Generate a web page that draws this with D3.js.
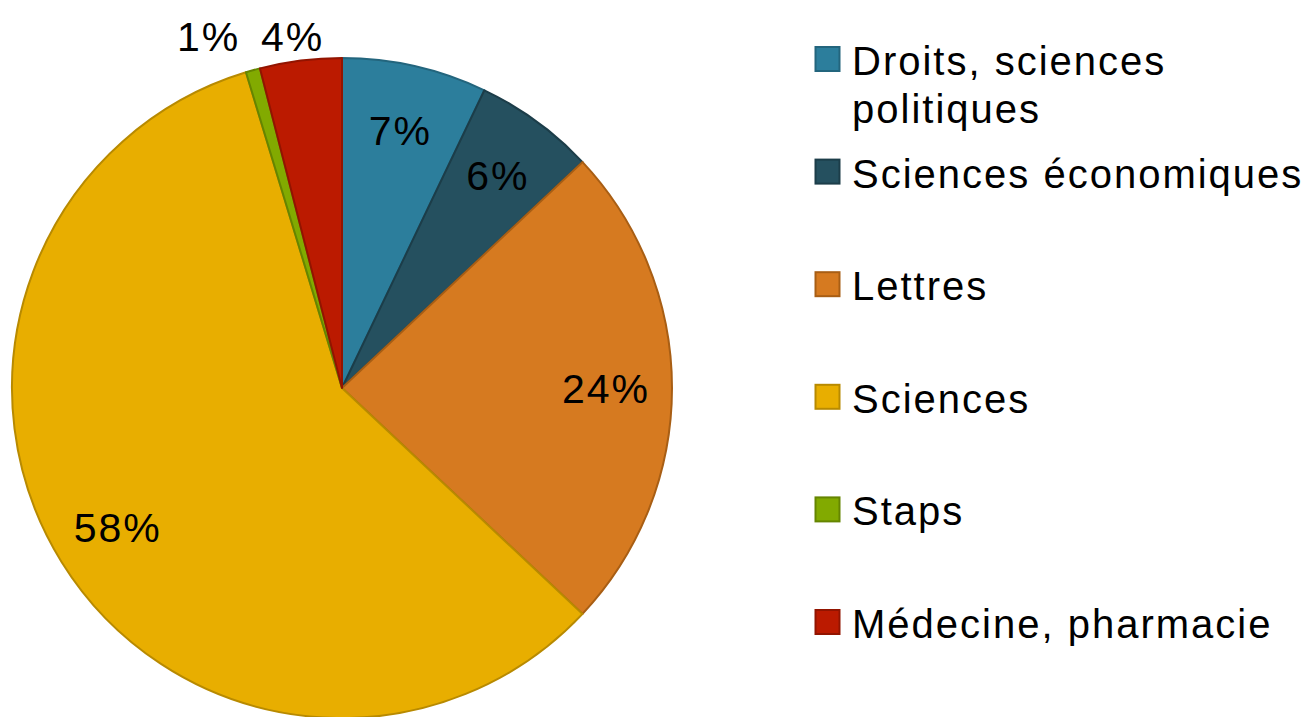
<!DOCTYPE html>
<html>
<head>
<meta charset="utf-8">
<script src="https://cdn.jsdelivr.net/npm/d3@7"></script>
<style>
  body { margin: 0; background: #fff; }
  text { font-family: "Liberation Sans", Arial, sans-serif; fill: #000; letter-spacing: 2px; }
</style>
</head>
<body>
<svg id="chart" width="1316" height="717"></svg>
<script>
const categories = ['Droits, sciences politiques', 'Sciences économiques', 'Lettres', 'Sciences', 'Staps', 'Médecine, pharmacie']
const legendLines = [['Droits, sciences', 'politiques'], ['Sciences économiques'], ['Lettres'], ['Sciences'], ['Staps'], ['Médecine, pharmacie']]
const values = [7.1, 5.9, 24.0, 58.3, 0.7, 4.0]
const fills = ['#2c7e9c', '#25505f', '#d67a20', '#e8ae00', '#82aa00', '#bb1a00']
const strokes = ['#23657d', '#1c3d49', '#a85e14', '#b88a00', '#658500', '#921400']

const data = categories.map((c, i) => ({ nom: c, value: values[i], i }))

const R = 330
const cx = 342, cy = 388

const svg = d3.select('#chart')
const color = d3.scaleOrdinal().domain(categories).range(fills)
const strokeColor = d3.scaleOrdinal().domain(categories).range(strokes)
const fmt = d => d3.format('.0f')(d) + '%'

const pieData = d3.pie().sort(null).value(d => d.value)(data)
const arc = d3.arc().innerRadius(0).outerRadius(R)
const labelArc = d3.arc().innerRadius(R * 0.8).outerRadius(R * 0.8)

const pie = svg.append('g').attr('transform', `translate(${cx},${cy})`)

pie.selectAll('path')
  .data(pieData)
  .enter()
  .append('path')
  .attr('d', arc)
  .attr('fill', d => color(d.data.nom))
  .attr('stroke', d => strokeColor(d.data.nom))
  .attr('stroke-width', 2)
  .attr('stroke-linejoin', 'round')

// labels: inside for big slices, above the pie for the small ones
const inside = pieData.filter(d => d.data.value >= 5)
const outside = pieData.filter(d => d.data.value < 5)

pie.selectAll('text.in')
  .data(inside)
  .enter()
  .append('text')
  .attr('class', 'in')
  .attr('transform', d => `translate(${labelArc.centroid(d)})`)
  .attr('text-anchor', 'middle')
  .attr('dy', '0.36em')
  .style('font-size', '41px')
  .text(d => fmt(d.data.value))

// outside labels sit on one line above the pie, pushed apart if they overlap
const outY = -R - 22
const outPos = outside.map(d => {
  const a = (d.startAngle + d.endAngle) / 2
  return { d, x: (outY / -Math.cos(a)) * Math.sin(a) }
}).sort((a, b) => b.x - a.x)
for (let k = 1; k < outPos.length; k++) {
  if (outPos[k - 1].x - outPos[k].x < 84) outPos[k].x = outPos[k - 1].x - 84
}

pie.selectAll('text.out')
  .data(outPos)
  .enter()
  .append('text')
  .attr('class', 'out')
  .attr('x', p => p.x - 5)
  .attr('y', outY)
  .attr('text-anchor', 'middle')
  .attr('dy', '0.36em')
  .style('font-size', '41px')
  .text(p => fmt(p.d.data.value))

// la légende
const SQ = 24
const y = d3.scalePoint().domain(categories).range([59, 622])
const legend = svg.append('g').attr('transform', 'translate(815,0)')

const items = legend.selectAll('g')
  .data(data)
  .enter()
  .append('g')
  .attr('transform', d => `translate(0,${y(d.nom)})`)

items.append('rect')
  .attr('x', 0.5)
  .attr('y', -SQ / 2)
  .attr('width', SQ)
  .attr('height', SQ)
  .attr('fill', d => color(d.nom))
  .attr('stroke', d => strokeColor(d.nom))
  .attr('stroke-width', 2)

items.append('text')
  .attr('x', 37)
  .attr('y', 16)
  .style('font-size', '40px')
  .selectAll('tspan')
  .data(d => legendLines[d.i])
  .enter()
  .append('tspan')
  .attr('x', 37)
  .attr('dy', (l, j) => j === 0 ? 0 : 48)
  .text(l => l)
</script>
</body>
</html>
